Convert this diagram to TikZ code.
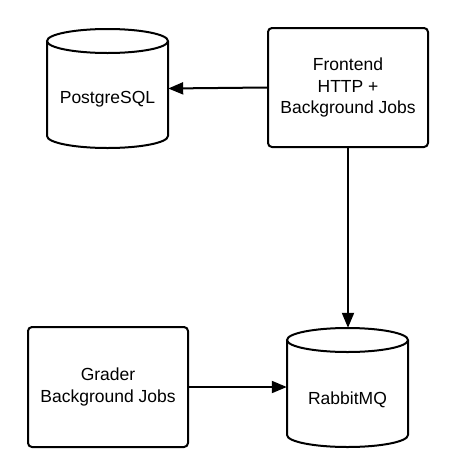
\documentclass[tikz,border=0pt]{standalone}
\usepackage{fontspec}
\setmainfont{Liberation Sans}
\usetikzlibrary{arrows.meta}
\begin{document}
\begin{tikzpicture}[x=1pt,y=-1pt,
  line/.style={line width=2pt, draw=black},
  box/.style={line, rectangle, rounded corners=4pt, minimum width=160pt, minimum height=119pt, inner sep=0pt, align=center, font=\fontsize{17.5}{21.5}\selectfont},
  cylarea/.style={rectangle, inner sep=0pt, minimum width=121pt},
  lbl/.style={inner sep=0pt, font=\fontsize{17.5}{21.5}\selectfont},
  conn/.style={line, -{Triangle[length=15pt,width=12pt]}}]
\useasboundingbox (0,0) rectangle (472,472);
% PostgreSQL cylinder: x 47..168, top 29, bottom 148, ry 12
\node[cylarea, minimum height=119pt] (pg) at (107.5,88.5) {};
\draw[line] (47,41) -- (47,136) arc[start angle=180, end angle=0, x radius=60.5, y radius=12] -- (168,41);
\draw[line, fill=white] (107.5,41) ellipse [x radius=60.5, y radius=12];
\node[lbl] (pgtext) at (107.5,99.5) {PostgreSQL};
% RabbitMQ cylinder: x 287..408, top 328, bottom 447
\node[cylarea, minimum height=119pt] (rmq) at (347.5,387.5) {};
\draw[line] (287,340) -- (287,435) arc[start angle=180, end angle=0, x radius=60.5, y radius=12] -- (408,340);
\draw[line, fill=white] (347.5,340) ellipse [x radius=60.5, y radius=12];
\node[lbl] (rmqtext) at (347.5,399.5) {RabbitMQ};
% boxes
\node[box] (fe) at (348,87.5) {Frontend\\HTTP +\\Background Jobs};
\node[box, minimum height=120pt] (gr) at (108,387) {Grader\\Background Jobs};
% connectors
\draw[conn] (fe.west) -- (pg.east);
\draw[conn] (fe.south) -- (fe.south |- rmq.north);
\draw[conn] (gr.east) -- (gr.east -| rmq.west);
\end{tikzpicture}
\end{document}
